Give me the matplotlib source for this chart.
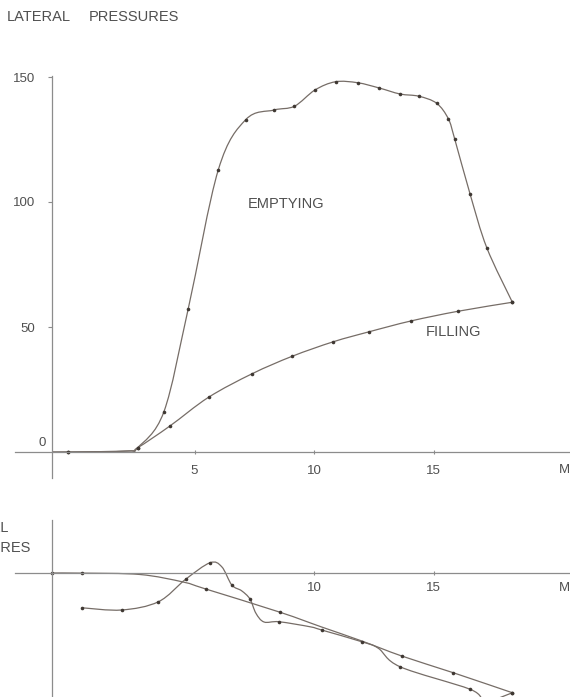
import numpy as np
import matplotlib
matplotlib.use("Agg")
import matplotlib.pyplot as plt
from matplotlib.path import Path
from matplotlib.patches import PathPatch

plt.rcParams['font.family'] = ['Liberation Sans', 'DejaVu Sans']

# lateral pressures (top panel)
emp_x = [-0.95, -0.3, 2.2, 2.62, 3.72, 4.74, 6.0, 7.15, 8.33, 9.18, 10.04, 10.9,
         11.83, 12.73, 13.6, 14.39, 15.13, 15.62, 15.89, 16.53, 17.23, 18.3]
emp_y = [0, 0, 0.4, 1.7, 16.1, 57.4, 113, 133, 136.8, 138.3, 144.8, 148.1,
         147.7, 145.6, 143.2, 142.3, 139.5, 133.3, 125.1, 103.2, 81.7, 59.9]
emp_dots = [1] + list(range(3, 22))

fil_x = [-0.95, -0.3, 2.2, 2.62, 3.97, 5.59, 7.41, 9.09, 10.81, 12.31, 14.05, 16.03, 18.3]
fil_y = [0, 0, 0.4, 1.7, 10.4, 21.9, 31.3, 38.3, 44.1, 48.1, 52.4, 56.3, 59.9]
fil_dots = [1] + list(range(3, 13))

# vertical pressures (bottom panel), arbitrary units
vemp_x = [0.28, 1.95, 3.49, 4.63, 5.65, 6.14, 6.56, 6.97, 7.32, 7.57, 7.91, 8.54,
          9.83, 10.32, 12.0, 12.69, 13.6, 16.53, 17.2, 18.3]
vemp_y = [-13.9, -14.8, -11.5, -2.5, 4.1, 2.5, -4.8, -7.1, -10.4, -16.1, -19.6, -19.5,
          -21.5, -22.8, -27.5, -30.1, -37.5, -46.5, -51.2, -47.9]
vemp_dots = [0, 1, 2, 3, 4, 6, 8, 11, 13, 14, 16, 17, 19]

vfil_x = [-0.95, 0.3, 2.72, 4.52, 5.47, 8.58, 10.32, 12.0, 13.67, 15.83, 18.3]
vfil_y = [0, -0.05, -0.6, -3.6, -6.4, -15.7, -21.6, -27.2, -33.2, -39.9, -47.9]
vfil_dots = [0, 1, 4, 5, 8, 9, 10]

top_yticks = [50, 100, 150]
top_xticks = [5, 10, 15]
bot_xticks = [10, 15]

LINE = '#766d67'
DOT = '#3f3833'
AXC = '#8c8c8c'
TXT = '#505050'


def smooth_path(xs, ys):
    pts = np.column_stack([xs, ys]).astype(float)
    n = len(pts)
    verts = [pts[0]]
    codes = [Path.MOVETO]
    for i in range(n - 1):
        p0 = pts[i - 1] if i > 0 else pts[i]
        p1 = pts[i]
        p2 = pts[i + 1]
        p3 = pts[i + 2] if i + 2 < n else pts[i + 1]
        verts += [p1 + (p2 - p0) / 6, p2 - (p3 - p1) / 6, p2]
        codes += [Path.CURVE4] * 3
    return Path(verts, codes)


def draw_curve(ax, xs, ys, dots):
    ax.add_patch(PathPatch(smooth_path(xs, ys), fill=False, ec=LINE, lw=0.9))
    ax.plot([xs[i] for i in dots], [ys[i] for i in dots], 'o', color=DOT,
            ms=2.6, mew=0)


def style_axes(ax):
    for s in ['top', 'right']:
        ax.spines[s].set_visible(False)
    ax.spines['bottom'].set_position(('data', 0))
    ax.spines['left'].set_position(('data', -0.95))
    for s in ['bottom', 'left']:
        ax.spines[s].set_color(AXC)
        ax.spines[s].set_linewidth(0.9)
    ax.tick_params(colors=AXC, labelcolor=TXT, labelsize=9.5, width=0.8)


W, H = 570, 697
fig = plt.figure(figsize=(W / 100, H / 100), dpi=100)
fig.patch.set_facecolor('white')

xlim = ((15 - 75) / 23.9, (570 - 75) / 23.9)

ax1 = fig.add_axes([15 / W, 1 - 478 / H, 555 / W, 402 / H])
ax1.set_xlim(xlim)
ax1.set_ylim(-10.4, 150.4)
style_axes(ax1)
ax1.set_xticks(top_xticks)
ax1.set_yticks(top_yticks)
ax1.tick_params(axis='x', direction='inout', length=3, pad=7.5)
ax1.tick_params(axis='y', direction='out', length=3, pad=9)
draw_curve(ax1, fil_x, fil_y, fil_dots)
draw_curve(ax1, emp_x, emp_y, emp_dots)
ax1.text(-1.21, 3.6, '0', ha='right', va='center', fontsize=9.5, color=TXT)
ax1.text(8.83, 99.2, 'EMPTYING', ha='center', va='center', fontsize=10.5, color=TXT)
ax1.text(15.82, 48, 'FILLING', ha='center', va='center', fontsize=10.5, color=TXT)

ax2 = fig.add_axes([15 / W, 0, 555 / W, 177 / H])
ax2.set_xlim(xlim)
ax2.set_ylim(-49.6, 21.2)
style_axes(ax2)
ax2.set_xticks(bot_xticks)
ax2.set_yticks([])
ax2.tick_params(axis='x', direction='inout', length=3, pad=5)
draw_curve(ax2, vfil_x, vfil_y, vfil_dots)
draw_curve(ax2, vemp_x, vemp_y, vemp_dots)

# headings and unit marks
fig.text(7 / W, 1 - 17 / H, 'LATERAL', ha='left', va='center', fontsize=10.5, color=TXT)
fig.text(89 / W, 1 - 17 / H, 'PRESSURES', ha='left', va='center', fontsize=10.5, color=TXT)
fig.text(9 / W, 1 - 528 / H, 'VERTICAL', ha='right', va='center', fontsize=10.5, color=TXT)
fig.text(31 / W, 1 - 548 / H, 'PRESSURES', ha='right', va='center', fontsize=10.5, color=TXT)
fig.text(559 / W, 1 - 470 / H, 'M', ha='left', va='center', fontsize=9.5, color=TXT)
fig.text(559 / W, 1 - 588 / H, 'M', ha='left', va='center', fontsize=9.5, color=TXT)

fig.savefig('out.png', dpi=100, facecolor='white')
